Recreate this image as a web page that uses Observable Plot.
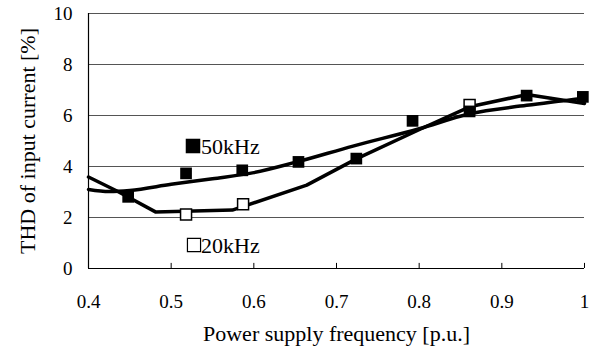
<!DOCTYPE html>
<html>
<head>
<meta charset="utf-8">
<script src="https://cdn.jsdelivr.net/npm/d3@7"></script>
<script src="https://cdn.jsdelivr.net/npm/@observablehq/plot@0.6"></script>
<style>
  html, body { margin: 0; padding: 0; background: #fff; }
</style>
</head>
<body>
<div id="chart"></div>
<script>
// Measured markers
const x50 = [0.448, 0.518, 0.586, 0.654, 0.724, 0.792, 0.861, 0.930, 0.998];
const y50 = [2.81, 3.73, 3.85, 4.18, 4.31, 5.79, 6.16, 6.78, 6.73];
const x20 = [0.518, 0.587, 0.861];
const y20 = [2.12, 2.52, 6.41];

// Curves drawn through the data
const curve50x = [0.4, 0.425, 0.45, 0.5, 0.55, 0.6, 0.65, 0.72, 0.8, 0.86, 0.93, 1.0];
const curve50y = [3.10, 3.02, 3.06, 3.30, 3.52, 3.76, 4.16, 4.80, 5.48, 6.06, 6.40, 6.68];
const curve20x = [0.4, 0.435, 0.481, 0.574, 0.664, 0.724, 0.803, 0.861, 0.93, 1.0];
const curve20y = [3.59, 3.03, 2.22, 2.29, 3.27, 4.30, 5.49, 6.34, 6.82, 6.47];

// Axis ticks and titles
const xTicks = [0.4, 0.5, 0.6, 0.7, 0.8, 0.9, 1.0];
const xTickLabels = ["0.4", "0.5", "0.6", "0.7", "0.8", "0.9", "1"];
const yTicks = [0, 2, 4, 6, 8, 10];
const gridTicks = [2, 4, 6, 8, 10];
const xTitle = "Power supply frequency [p.u.]";
const yTitle = "THD of input current [%]";

const legendLabels = ["50kHz", "20kHz"];

const pts50 = x50.map((x, i) => ({x, y: y50[i]}));
const pts20 = x20.map((x, i) => ({x, y: y20[i]}));
const line50 = curve50x.map((x, i) => ({x, y: curve50y[i]}));
const line20 = curve20x.map((x, i) => ({x, y: curve20y[i]}));
const xTickData = xTicks.map((x, i) => ({x, label: xTickLabels[i]}));

const font = "'Liberation Serif', 'Times New Roman', serif";

const plot = Plot.plot({
  width: 599,
  height: 351,
  marginLeft: 88,
  marginRight: 15,
  marginTop: 13,
  marginBottom: 83,
  style: {fontFamily: font, fontSize: "19px", background: "#fff", color: "#000"},
  x: {domain: [0.4, 1.0], axis: null},
  y: {domain: [0, 10], axis: null},
  marks: [
    Plot.ruleY(gridTicks, {stroke: "#555", strokeWidth: 1}),
    Plot.ruleX([0.4], {stroke: "#000", strokeWidth: 1.2}),
    Plot.ruleY([0], {stroke: "#000", strokeWidth: 1.2}),
    Plot.ruleX(xTicks.slice(1), {x: d => d, y1: 0, y2: 0.2, stroke: "#000", strokeWidth: 1}),
    // tick labels
    Plot.text(xTickData, {x: "x", frameAnchor: "bottom", dy: 33, text: "label", lineAnchor: "middle", textAnchor: "middle", fontSize: 19, fontFamily: font}),
    Plot.text(yTicks, {y: d => d, frameAnchor: "left", dx: -16, text: d => String(d), textAnchor: "end", lineAnchor: "middle", fontSize: 19, fontFamily: font}),
    // curves and markers
    Plot.line(line50, {x: "x", y: "y", stroke: "#000", strokeWidth: 3.5, curve: "monotone-x"}),
    Plot.line(line20, {x: "x", y: "y", stroke: "#000", strokeWidth: 3.5, curve: "linear", strokeLinejoin: "round"}),
    Plot.dot(pts20, {x: "x", y: "y", symbol: "square", r: 6.2, fill: "#fff", stroke: "#000", strokeWidth: 1.5}),
    Plot.dot(pts50, {x: "x", y: "y", symbol: "square", r: 6.6, fill: "#000", stroke: "none"}),
    // inline legend
    Plot.dot([legendLabels[0]], {frameAnchor: "top-left", dx: 104.5, dy: 132.5, symbol: "square", r: 8.2, fill: "#000", stroke: "none"}),
    Plot.text([legendLabels[0]], {frameAnchor: "top-left", dx: 112.5, dy: 133, text: d => d, textAnchor: "start", lineAnchor: "middle", fontSize: 22, fontFamily: font}),
    Plot.dot([legendLabels[1]], {frameAnchor: "top-left", dx: 105.5, dy: 231.5, symbol: "square", r: 7.4, fill: "#fff", stroke: "#000", strokeWidth: 1.2}),
    Plot.text([legendLabels[1]], {frameAnchor: "top-left", dx: 112.5, dy: 232, text: d => d, textAnchor: "start", lineAnchor: "middle", fontSize: 22, fontFamily: font}),
    // axis titles
    Plot.text([xTitle], {frameAnchor: "bottom", dy: 65, text: d => d, lineAnchor: "middle", textAnchor: "middle", fontSize: 22, fontFamily: font}),
    Plot.text([yTitle], {frameAnchor: "left", dx: -61, text: d => d, rotate: -90, lineAnchor: "middle", textAnchor: "middle", fontSize: 22, fontFamily: font})
  ]
});
document.getElementById("chart").appendChild(plot);
</script>
</body>
</html>
